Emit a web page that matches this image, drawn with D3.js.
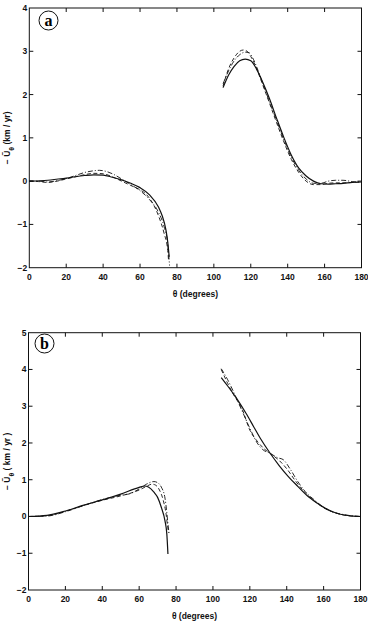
<!DOCTYPE html>
<html>
<head>
<meta charset="utf-8">
<script src="https://cdn.jsdelivr.net/npm/d3@7"></script>
<style>
  body { margin: 0; background: #fff; }
  svg { display: block; font-family: "Liberation Sans", Arial, sans-serif; }
  .tick-label { font-size: 8.5px; fill: #111; font-weight: bold; }
  .axis-title { font-size: 8.5px; fill: #111; font-weight: bold; }
</style>
</head>
<body>
<svg id="chart"></svg>
<script>
// tick values
var xTicks = [0, 20, 40, 60, 80, 100, 120, 140, 160, 180];
var yTicksA = [-2, -1, 0, 1, 2, 3, 4];
var yTicksB = [-2, -1, 0, 1, 2, 3, 4, 5];

// panel (a) -- [theta, value]
var aSolidLeft = [[0,0],[10,0.02],[20,0.07],[30,0.13],[35,0.145],[40,0.14],[45,0.09],[50,0.03],[55,-0.05],[60,-0.15],[65,-0.31],[70,-0.6],[72,-0.8],[74,-1.12],[75,-1.4],[75.8,-1.75]];
var aDashLeft = [[0,0],[5,-0.01],[10,-0.03],[15,0.0],[20,0.05],[25,0.1],[30,0.15],[35,0.18],[40,0.17],[45,0.1],[50,0.0],[55,-0.1],[60,-0.2],[63,-0.29],[66,-0.45],[70,-0.8],[73,-1.2],[75,-1.6],[75.5,-1.85]];
var aDotLeft = [[0,0],[5,0.0],[10,-0.02],[15,0.01],[20,0.06],[25,0.13],[30,0.2],[35,0.24],[38,0.25],[42,0.22],[46,0.15],[50,0.05],[55,-0.08],[60,-0.22],[65,-0.42],[70,-0.72],[73,-1.05],[75,-1.45],[76,-1.95]];
var aSolidRight = [[105,2.16],[108,2.45],[111,2.65],[114,2.78],[117,2.82],[120,2.78],[123,2.6],[126,2.33],[130,1.92],[134,1.45],[138,1.0],[142,0.6],[146,0.3],[150,0.12],[154,0.0],[158,-0.06],[162,-0.07],[166,-0.06],[170,-0.05],[175,-0.03],[180,-0.02]];
var aDashRight = [[105,2.2],[108,2.6],[111,2.85],[114,3.0],[116,3.03],[118,3.0],[120,2.88],[123,2.62],[126,2.28],[130,1.82],[134,1.35],[138,0.9],[142,0.5],[146,0.2],[150,0.0],[154,-0.08],[158,-0.08],[162,-0.05],[166,-0.04],[170,-0.04],[175,-0.03],[180,-0.02]];
var aDotRight = [[105,2.25],[108,2.55],[111,2.78],[114,2.92],[117,2.98],[119,2.97],[121,2.85],[124,2.55],[127,2.2],[130,1.85],[134,1.4],[138,0.95],[142,0.55],[146,0.25],[150,0.05],[154,-0.05],[158,-0.05],[162,0.0],[166,0.02],[170,0.02],[175,-0.01],[180,-0.02]];

// panel (b) -- [theta, value]
var bSolidLeft = [[0,0],[10,0.03],[20,0.15],[30,0.31],[40,0.45],[50,0.61],[60,0.79],[63,0.83],[65,0.8],[68,0.66],[70,0.52],[72,0.25],[74,-0.12],[75,-0.48],[75.6,-1.02]];
var bDashLeft = [[0,0],[10,0.02],[20,0.14],[30,0.3],[40,0.44],[50,0.56],[55,0.63],[60,0.72],[64,0.82],[67,0.88],[69,0.85],[71,0.72],[73,0.45],[74.5,0.1],[75.5,-0.3],[76,-0.45]];
var bDotLeft = [[0,0],[10,0.01],[20,0.13],[30,0.3],[40,0.46],[50,0.58],[55,0.62],[60,0.75],[64,0.88],[68,0.95],[70,0.92],[72,0.8],[74,0.5],[75,0.1],[75.7,-0.25],[76.2,-0.45]];
var bSolidRight = [[104.5,3.78],[108,3.55],[113,3.2],[118,2.8],[122,2.45],[126,2.1],[131,1.72],[136,1.38],[141,1.08],[146,0.82],[151,0.57],[156,0.38],[161,0.22],[166,0.11],[171,0.04],[176,0.01],[180,0]];
var bDashRight = [[104.5,4.0],[108,3.62],[111,3.33],[116,2.9],[120,2.35],[124,2.05],[128,1.83],[132,1.68],[136,1.52],[140,1.3],[145,0.95],[150,0.65],[155,0.42],[160,0.24],[165,0.12],[170,0.05],[175,0.01],[180,0]];
var bDotRight = [[104.5,4.02],[108,3.72],[112,3.3],[116,2.85],[120,2.4],[124,2.0],[127,1.82],[131,1.72],[135,1.6],[138,1.55],[142,1.28],[146,0.95],[150,0.68],[155,0.45],[160,0.25],[165,0.12],[170,0.06],[175,0.02],[180,0]];

var svg = d3.select("#chart").attr("width", 368).attr("height", 627);

var styles = {
  solid: { width: 1.2, dash: null },
  dash: { width: 0.9, dash: "4,2.5" },
  dot: { width: 0.9, dash: "5,2,1,2" }
};

function drawPanel(p) {
  var x = d3.scaleLinear().domain([0, 180]).range([p.left, p.right]);
  var y = d3.scaleLinear().domain(p.yDomain).range([p.bottom, p.top]);
  var g = svg.append("g");

  // frame
  g.append("rect")
    .attr("x", p.left).attr("y", p.top)
    .attr("width", p.right - p.left).attr("height", p.bottom - p.top)
    .attr("fill", "none").attr("stroke", "#111").attr("stroke-width", 1);

  // inward ticks on all four sides
  var tl = 4;
  xTicks.forEach(function (t) {
    if (t === 0 || t === 180) return;
    g.append("line").attr("x1", x(t)).attr("x2", x(t)).attr("y1", p.bottom).attr("y2", p.bottom - tl).attr("stroke", "#111");
    g.append("line").attr("x1", x(t)).attr("x2", x(t)).attr("y1", p.top).attr("y2", p.top + tl).attr("stroke", "#111");
  });
  p.yTicks.forEach(function (t) {
    if (t === p.yDomain[0] || t === p.yDomain[1]) return;
    g.append("line").attr("x1", p.left).attr("x2", p.left + tl).attr("y1", y(t)).attr("y2", y(t)).attr("stroke", "#111");
    g.append("line").attr("x1", p.right).attr("x2", p.right - tl).attr("y1", y(t)).attr("y2", y(t)).attr("stroke", "#111");
  });

  // tick labels
  g.selectAll(".xl").data(xTicks).enter().append("text")
    .attr("class", "tick-label")
    .attr("x", function (d) { return x(d); })
    .attr("y", p.bottom + 12)
    .attr("text-anchor", "middle")
    .text(function (d) { return d; });
  g.selectAll(".yl").data(p.yTicks).enter().append("text")
    .attr("class", "tick-label")
    .attr("x", p.left - 2)
    .attr("y", function (d) { return y(d) + 3; })
    .attr("text-anchor", "end")
    .text(function (d) { return d < 0 ? "\u2212" + Math.abs(d) : d; });

  // curves
  var line = d3.line()
    .x(function (d) { return x(d[0]); })
    .y(function (d) { return y(d[1]); })
    .curve(d3.curveMonotoneX);
  p.series.forEach(function (s) {
    var st = styles[s.style];
    g.append("path")
      .attr("d", line(s.data))
      .attr("fill", "none")
      .attr("stroke", "#111")
      .attr("stroke-width", st.width)
      .attr("stroke-dasharray", st.dash);
  });

  // circled panel letter
  g.append("circle").attr("cx", p.tag[0]).attr("cy", p.tag[1]).attr("r", 9.5)
    .attr("fill", "#fff").attr("stroke", "#111").attr("stroke-width", 1);
  g.append("text")
    .attr("x", p.tag[0]).attr("y", p.tag[1] + 5)
    .attr("text-anchor", "middle")
    .style("font-family", "'Liberation Serif', 'DejaVu Serif', serif")
    .style("font-size", "16px").style("font-weight", "bold")
    .text(p.letter);

  // axis titles
  g.append("text").attr("class", "axis-title")
    .attr("x", (p.left + p.right) / 2).attr("y", p.bottom + 29)
    .attr("text-anchor", "middle")
    .text("\u03b8 (degrees)");

  var yt = g.append("text").attr("class", "axis-title")
    .attr("text-anchor", "middle")
    .attr("transform", "translate(10," + ((p.top + p.bottom) / 2) + ") rotate(-90)");
  yt.append("tspan").text("\u2212 \u0168");
  yt.append("tspan").attr("baseline-shift", "sub").style("font-size", "7px").text("\u03b8");
  yt.append("tspan").text(p.unit);
}

drawPanel({
  left: 29.3, right: 361.5, top: 8, bottom: 267.7,
  yDomain: [-2, 4], yTicks: yTicksA,
  tag: [48.5, 20.5], letter: "a", unit: "  (km / yr)",
  series: [
    { data: aSolidLeft, style: "solid" }, { data: aDashLeft, style: "dash" }, { data: aDotLeft, style: "dot" },
    { data: aSolidRight, style: "solid" }, { data: aDashRight, style: "dash" }, { data: aDotRight, style: "dot" }
  ]
});

drawPanel({
  left: 28.5, right: 360.5, top: 332.7, bottom: 590,
  yDomain: [-2, 5], yTicks: yTicksB,
  tag: [44.5, 343.5], letter: "b", unit: "  ( km / yr )",
  series: [
    { data: bSolidLeft, style: "solid" }, { data: bDashLeft, style: "dash" }, { data: bDotLeft, style: "dot" },
    { data: bSolidRight, style: "solid" }, { data: bDashRight, style: "dash" }, { data: bDotRight, style: "dot" }
  ]
});
</script>
</body>
</html>
